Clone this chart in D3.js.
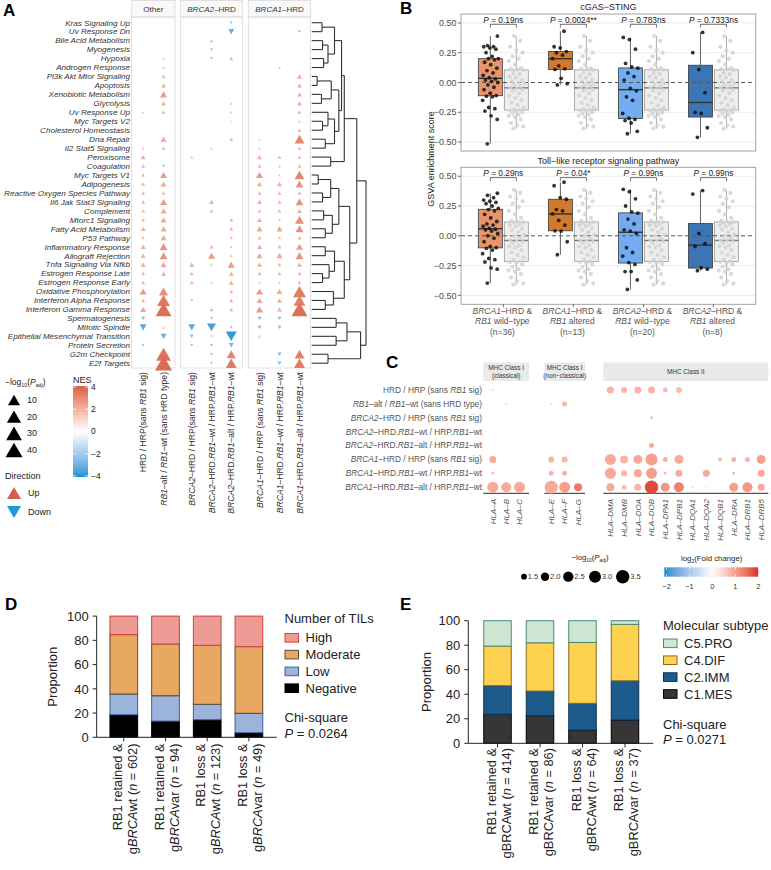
<!DOCTYPE html>
<html>
<head>
<meta charset="utf-8">
<script src="https://cdn.jsdelivr.net/npm/d3@7/dist/d3.min.js"></script>
<style>html,body{margin:0;padding:0;background:#fff;}</style>
</head>
<body>
<script>
// ===================== DATA =====================
// ---- Panel A ----
const pathways = ["Kras Signaling Up","Uv Response Dn","Bile Acid Metabolism","Myogenesis","Hypoxia","Androgen Response","Pi3k Akt Mtor Signaling","Apoptosis","Xenobiotic Metabolism","Glycolysis","Uv Response Up","Myc Targets V2","Cholesterol Homeostasis","Dna Repair","Il2 Stat5 Signaling","Peroxisome","Coagulation","Myc Targets V1","Adipogenesis","Reactive Oxygen Species Pathway","Il6 Jak Stat3 Signaling","Complement","Mtorc1 Signaling","Fatty Acid Metabolism","P53 Pathway","Inflammatory Response","Allograft Rejection","Tnfa Signaling Via Nfkb","Estrogen Response Late","Estrogen Response Early","Oxidative Phosphorylation","Interferon Alpha Response","Interferon Gamma Response","Spermatogenesis","Mitotic Spindle","Epithelial Mesenchymal Transition","Protein Secretion","G2m Checkpoint","E2f Targets"];
const contrastsA = ["HRD / HRP(sans _RB1_ sig)","_RB1_–alt / _RB1_–wt (sans HRD type)","_BRCA2_–HRD / HRP(sans _RB1_ sig)","_BRCA2_–HRD._RB1_–wt / HRP._RB1_–wt","_BRCA2_–HRD._RB1_–alt / HRP._RB1_–wt","_BRCA1_–HRD / HRP (sans _RB1_ sig)","_BRCA1_–HRD._RB1_–wt / HRP._RB1_–wt","_BRCA1_–HRD._RB1_–alt / HRP._RB1_–wt"];
const contrastFacetA = ["Other","Other","BRCA2","BRCA2","BRCA2","BRCA1","BRCA1","BRCA1"];
const facetsA = ["Other","BRCA2","BRCA1"];
const facetTitlesA = ["Other","_BRCA2_–HRD","_BRCA1_–HRD"];
// -log10(Padj), rows = pathways, cols = contrastsA (0 = not shown)
const logPadjA = [
[0,0,0,0,.04,0,0,0],
[0,0,0,0,.62,0,0,.04],
[0,0,0,.12,0,0,0,0],
[0,0,0,.04,0,0,0,0],
[0,.04,0,.04,.12,0,0,0],
[0,.04,0,0,0,0,.04,0],
[0,.12,0,0,0,0,0,.3],
[0,.3,0,0,0,0,0,.3],
[0,1.15,0,0,0,0,0,.3],
[0,.3,0,0,.04,0,0,.3],
[.04,.12,0,0,.04,0,0,.12],
[0,0,0,0,.02,0,0,.04],
[0,0,0,0,0,0,0,.12],
[0,.62,0,0,.12,.04,0,4.79],
[.04,.12,0,.04,0,.04,0,.12],
[.3,0,.04,0,0,.3,.12,.12],
[.12,.04,0,0,0,.12,.04,.12],
[.12,1.15,0,0,0,1.15,.04,4.79],
[.12,.62,0,0,0,.3,.3,1.96],
[.12,.12,0,0,0,.12,.12,.12],
[.12,1.15,0,.3,0,.3,.12,1.96],
[.12,.62,0,.12,0,.12,.12,.3],
[.12,.62,0,0,.12,.3,.04,3.14],
[.3,.62,0,0,.12,.62,.62,1.96],
[.07,.62,0,0,.07,.12,.07,.12],
[.3,1.96,0,.12,.04,.3,.12,1.15],
[.3,1.96,0,1.15,.04,.62,.62,1.96],
[.3,.62,.3,.04,1.15,.3,.12,.3],
[.12,.3,.12,0,.3,.12,.12,.12],
[.12,0,.12,.04,.3,.04,.04,.12],
[1.15,3.14,0,0,.12,1.15,.62,13.7],
[.12,13.7,.04,0,.12,.62,.3,9.93],
[.62,31.4,0,.12,.12,1.15,.3,31.4],
[.12,0,0,.04,0,.12,.12,0],
[1.15,.04,1.15,3.14,.04,.12,.12,0],
[0,.62,.12,.02,7.01,.04,0,0],
[.04,0,.04,.04,.3,0,0,0],
[0,24.3,0,.04,3.14,0,.12,4.79],
[0,40,0,.04,7.01,0,.12,7.01]];
// NES (sign gives direction)
const nesA = [
[0,0,0,0,-2.2,0,0,0],
[0,0,0,0,-3.1,0,0,-2.2],
[0,0,0,1.9,0,0,0,0],
[0,0,0,-2.2,0,0,0,0],
[0,1.6,0,-2.2,1.9,0,0,0],
[0,1.6,0,0,0,0,1.6,0],
[0,1.9,0,0,0,0,0,2.1],
[0,2.1,0,0,0,0,0,2.1],
[0,2.6,0,0,0,0,0,2.1],
[0,2.1,0,0,1.6,0,0,2.1],
[1.6,1.9,0,0,1.6,0,0,1.9],
[0,0,0,0,1.5,0,0,1.6],
[0,0,0,0,0,0,0,1.9],
[0,2.3,0,0,1.9,1.6,0,3.1],
[1.6,1.9,0,1.6,0,1.6,0,1.9],
[2.1,0,1.6,0,0,2.1,1.9,1.9],
[1.9,-2.2,0,0,0,1.9,1.6,1.9],
[1.9,2.6,0,0,0,2.6,1.6,3.1],
[1.9,2.3,0,0,0,2.1,2.1,2.8],
[1.9,1.9,0,0,0,1.9,1.9,1.9],
[1.9,2.6,0,2.1,0,2.1,1.9,2.8],
[1.9,2.3,0,1.9,0,1.9,1.9,2.1],
[1.9,2.3,0,0,1.9,2.1,1.6,2.9],
[2.1,2.3,0,0,1.9,2.3,2.3,2.8],
[1.8,2.3,0,0,1.8,1.9,1.8,1.9],
[2.1,2.8,0,1.9,1.6,2.1,1.9,2.6],
[2.1,2.8,0,2.6,1.6,2.3,2.3,2.8],
[2.1,2.3,2.1,1.6,2.6,2.1,1.9,2.1],
[1.9,2.1,1.9,0,2.1,1.9,1.9,1.9],
[1.9,0,1.9,1.6,2.1,1.6,1.6,1.9],
[2.6,2.9,0,0,1.9,2.6,2.3,3.4],
[1.9,3.4,-2.2,0,1.9,2.3,2.1,3.3],
[2.3,3.7,0,1.9,1.9,2.6,2.1,3.7],
[-2.6,0,0,-2.2,0,-2.6,-2.6,0],
[-3.3,1.6,-3.3,-3.6,-2.2,-2.6,-2.6,0],
[0,-3.1,-2.6,-2.0,-3.9,1.6,0,0],
[-2.2,0,-2.2,-2.2,-2.9,0,0,0],
[0,3.6,0,-2.2,3.2,0,-2.6,3.3],
[0,3.8,0,-2.2,3.4,0,-2.6,3.4]];
const sizeLegendA = [10,20,30,40];
const nesTicksA = [4,2,0,-2,-4];
// hierarchical clustering of pathways (leaf = row index, h = merge height)
const dendroA = {h:1, c:[
  {h:0.83, c:[
    {h:0.6, c:[
      {h:0.55, c:[
        {h:0.42, c:[{h:0.19,c:[0,1]},{h:0.3,c:[{h:0.2,c:[2,3]},{h:0.22,c:[4,5]}]}]},
        {h:0.5, c:[{h:0.36,c:[{h:0.1,c:[6,7]},{h:0.18,c:[8,9]}]},{h:0.42,c:[{h:0.3,c:[10,{h:0.2,c:[11,12]}]},{h:0.25,c:[13,14]}]}]}
      ]},
      {h:0.35, c:[15,16]}
    ]},
    {h:0.7, c:[
      {h:0.5, c:[{h:0.35,c:[{h:0.12,c:[17,18]},{h:0.2,c:[19,20]}]},{h:0.38,c:[{h:0.22,c:[21,22]},{h:0.25,c:[23,24]}]}]},
      {h:0.6, c:[{h:0.42,c:[{h:0.25,c:[25,26]},{h:0.32,c:[27,{h:0.2,c:[28,29]}]}]},{h:0.4,c:[30,{h:0.25,c:[31,32]}]}]}
    ]}
  ]},
  {h:0.9, c:[{h:0.65,c:[{h:0.45,c:[33,34]},{h:0.45,c:[35,36]}]},{h:0.3,c:[37,38]}]}
]};

// ---- Panel B ----
const groupsB = ["BRCA1 RB1wt","BRCA1 RB1alt","BRCA2 RB1wt","BRCA2 RB1alt"];
const groupLabelsB = [["_BRCA1_–HRD &","_RB1_ wild−type","(n=36)"],["_BRCA1_–HRD &","_RB1_ altered","(n=13)"],["_BRCA2_–HRD &","_RB1_ wild−type","(n=20)"],["_BRCA2_–HRD &","_RB1_ altered","(n=8)"]];
const yTicksB = [0.5,0.25,0,-0.25,-0.5];
const cgasBRCA1wt = [-0.515,-0.31,-0.28,-0.24,-0.22,-0.21,-0.15,-0.12,-0.115,-0.11,-0.09,-0.06,-0.04,-0.02,0.00,0.01,0.02,0.03,0.04,0.06,0.08,0.10,0.12,0.15,0.17,0.19,0.20,0.20,0.22,0.25,0.28,0.29,0.30,0.30,0.31,0.39];
const cgasBRCA1alt = [-0.02,-0.01,0.035,0.11,0.115,0.14,0.20,0.23,0.25,0.26,0.29,0.30,0.43];
const cgasBRCA2wt = [-0.43,-0.41,-0.34,-0.32,-0.31,-0.30,-0.26,-0.15,-0.12,-0.07,-0.05,0.02,0.05,0.08,0.12,0.13,0.16,0.28,0.36,0.378];
const cgasBRCA2alt = [-0.46,-0.38,-0.26,-0.25,-0.085,0.11,0.25,0.42];
const cgasHRP = [-0.387,-0.37,-0.36,-0.34,-0.31,-0.29,-0.28,-0.27,-0.26,-0.25,-0.24,-0.235,-0.23,-0.225,-0.21,-0.19,-0.17,-0.15,-0.13,-0.11,-0.09,-0.07,-0.06,-0.05,-0.04,-0.03,-0.02,-0.01,0.00,0.01,0.02,0.04,0.05,0.07,0.08,0.105,0.11,0.115,0.12,0.15,0.18,0.20,0.22,0.25,0.27,0.30,0.35,0.39];
const tlrBRCA1wt = [-0.397,-0.28,-0.27,-0.22,-0.20,-0.19,-0.15,-0.12,-0.105,-0.10,-0.09,-0.05,-0.02,0.00,0.02,0.04,0.05,0.055,0.063,0.08,0.09,0.10,0.12,0.15,0.18,0.21,0.22,0.23,0.25,0.27,0.28,0.29,0.30,0.32,0.34,0.357];
const tlrBRCA1alt = [-0.159,-0.05,0.04,0.042,0.09,0.13,0.184,0.21,0.22,0.307,0.32,0.42,0.45];
const tlrBRCA2wt = [-0.45,-0.37,-0.30,-0.30,-0.24,-0.225,-0.17,-0.14,-0.10,0.02,0.04,0.05,0.10,0.14,0.19,0.20,0.25,0.31,0.37,0.39];
const tlrBRCA2alt = [-0.293,-0.28,-0.268,-0.09,-0.066,0.02,0.35,0.38];
const tlrHRP = [-0.41,-0.40,-0.38,-0.35,-0.32,-0.30,-0.29,-0.28,-0.26,-0.24,-0.23,-0.22,-0.215,-0.20,-0.18,-0.16,-0.14,-0.12,-0.10,-0.09,-0.08,-0.06,-0.05,-0.04,-0.038,-0.02,0.00,0.01,0.03,0.05,0.06,0.08,0.09,0.10,0.11,0.115,0.12,0.125,0.15,0.18,0.21,0.24,0.27,0.29,0.31,0.33,0.36,0.385];
const pCgas = ["0.19ns","0.0024**","0.783ns","0.7333ns"];
const pTlr = ["0.29ns","0.04*","0.99ns","0.99ns"];

// ---- Panel C ----
const contrastsC = ["HRD / HRP (sans _RB1_ sig)","_RB1_–alt / _RB1_–wt (sans HRD type)","_BRCA2_–HRD / HRP (sans _RB1_ sig)","_BRCA2_–HRD._RB1_–wt / HRP._RB1_–wt","_BRCA2_–HRD._RB1_–alt / HRP._RB1_–wt","_BRCA1_–HRD / HRP (sans _RB1_ sig)","_BRCA1_–HRD._RB1_–wt / HRP._RB1_–wt","_BRCA1_–HRD._RB1_–alt / HRP._RB1_–wt"];
const genesC = ["HLA–A","HLA–B","HLA–C","HLA–E","HLA–F","HLA–G","HLA–DMA","HLA–DMB","HLA–DOA","HLA–DOB","HLA–DPA1","HLA–DPB1","HLA–DQA1","HLA–DQA2","HLA–DQB1","HLA–DRA","HLA–DRB1","HLA–DRB5"];
const geneClassC = [0,0,0,1,1,1,2,2,2,2,2,2,2,2,2,2,2,2];
const classNamesC = [["MHC Class I","(classical)"],["MHC Class I","(non−classical)"],["MHC Class II"]];
const logPadjC = [
[1.10,0,0,0,0,0,1.72,1.54,1.72,1.72,1.39,1.54,0,0,0,0,0,0],
[0,1.10,0,1.10,1.39,0,0,0,0,0,0,0,0,0,0,0,0,0],
[0,0,0,0,0,0,0,0,0,1.17,0,0,0,0,0,0,0,0],
[0,0,0,0,0,0,0,0,0,0,0,0,0,0,0,0,0,0],
[0,0,0,0,0,0,0,0,0,1.39,0,0,0,0,0,0,0,0],
[1.72,0,0,1.54,1.54,0,2.70,1.92,2.15,3.01,1.39,2.15,0,0,1.27,1.39,1.39,2.15],
[1.17,0,0,1.39,1.39,0,2.70,1.54,1.92,2.70,1.17,1.72,0,1.72,0,1.17,0,1.72],
[2.70,2.41,2.70,3.35,2.70,1.92,1.92,1.39,1.72,3.72,2.15,2.41,1.10,1.08,0,2.15,2.41,1.72]];
const log2FcC = [
[0.5,0,0,0,0,0,0.8,0.8,0.8,0.8,0.7,0.7,0,0,0,0,0,0],
[0,0.5,0,0.5,0.8,0,0,0,0,0,0,0,0,0,0,0,0,0],
[0,0,0,0,0,0,0,0,0,0.7,0,0,0,0,0,0,0,0],
[0,0,0,0,0,0,0,0,0,0,0,0,0,0,0,0,0,0],
[0,0,0,0,0,0,0,0,0,0.9,0,0,0,0,0,0,0,0],
[0.9,0,0,0.8,0.8,0,0.9,0.8,0.9,1.0,0.8,0.9,0,0,0.7,0.8,0.8,1.0],
[0.7,0,0,0.8,0.8,0,0.9,0.8,0.9,1.0,0.7,0.9,0,0.9,0,0.7,0,0.9],
[0.9,0.9,0.9,0.9,1.0,1.4,0.9,0.7,0.8,1.8,1.1,1.3,0.5,0.5,0,1.0,1.1,0.9]];
const sizeLegendC = [1.5,2.0,2.5,3.0,3.5];
const fcTicksC = [-2,-1,0,1,2];

// ---- Panel D ----
const tilLine1 = ["RB1 retained &","RB1 retained &","RB1 loss &","RB1 loss &"];
const tilLine2 = ["g_BRCA_wt (_n_ = 602)","g_BRCA_var (_n_ = 94)","g_BRCA_wt (_n_ = 123)","g_BRCA_var (_n_ = 49)"];
const tilLevels = ["Negative","Low","Moderate","High"];
const tilNegative = [18.6,13.4,14.5,3.8];
const tilLow = [17.1,20.9,12.7,16.0];
const tilModerate = [49.0,42.7,48.7,55.0];
const tilHigh = [15.3,23.0,24.1,25.2];
const yTicksDE = [0,20,40,60,80,100];

// ---- Panel E ----
const subLine1 = ["RB1 retained &","RB1 retained &","RB1 loss &","RB1 loss &"];
const subLine2 = ["gBRCAwt (_n_ = 414)","gBRCAvar (_n_ = 86)","gBRCAwt (_n_ = 64)","gBRCAvar (_n_ = 37)"];
const subLevels = ["C1.MES","C2.IMM","C4.DIF","C5.PRO"];
const subMES = [23.6,22.5,10.8,19.0];
const subIMM = [23.4,20.1,21.8,32.0];
const subDIF = [32.3,39.4,49.7,46.0];
const subPRO = [20.7,18.0,17.7,3.0];

// ===================== DRAWING =====================
const FONT = '"Liberation Sans", Arial, Helvetica, sans-serif';
const svg = d3.select("body").append("svg").attr("width",771).attr("height",870).attr("font-family",FONT);
svg.append("rect").attr("width",771).attr("height",870).attr("fill","#fff");
const defs = svg.append("defs");

function rich(t, str){
  str.split("_").forEach((p,i)=>{ if(p!==""){ const s=t.append("tspan").text(p); if(i%2===1) s.attr("font-style","italic"); } });
  return t;
}
function logPadjLabel(t, fs){
  t.append("tspan").text("−log");
  t.append("tspan").attr("font-size",fs*0.62).attr("dy",fs*0.28).text("10");
  t.append("tspan").attr("dy",-fs*0.28).text("(");
  t.append("tspan").attr("font-style","italic").text("P");
  t.append("tspan").attr("font-size",fs*0.62).attr("dy",fs*0.28).text("adj");
  t.append("tspan").attr("dy",-fs*0.28).text(")");
  return t;
}
function panelLabel(txt,x,y){ svg.append("text").attr("x",x).attr("y",y).attr("font-size",17).attr("font-weight","bold").attr("fill","#000").text(txt); }
function gradient(id, scale, d0, d1, vertical){
  const g = defs.append("linearGradient").attr("id",id);
  if(vertical) g.attr("x1",0).attr("y1",1).attr("x2",0).attr("y2",0);
  const n=24;
  for(let i=0;i<=n;i++){ const v=d0+(d1-d0)*i/n; g.append("stop").attr("offset",i/n).attr("stop-color",scale(v)); }
}

// ---------- Panel A ----------
(function(){
  const g = svg.append("g");
  panelLabel("A",3,16);
  const facetRanges = {Other:[131.7,175], BRCA2:[180.7,242.3], BRCA1:[248.3,310.7]};
  const yA = d3.scalePoint().domain(pathways).range([22.7,363.2]);
  const xA = {};
  facetsA.forEach(f=>{ xA[f] = d3.scalePoint().domain(contrastsA.filter((c,i)=>contrastFacetA[i]===f)).range(facetRanges[f]).padding(0.56); });
  const sizeA = d3.scalePow().exponent(0.25).domain([0,40]).range([0,17]);
  const nesColor = d3.scaleLinear().domain([-4.1,0,4.3]).range(["#1296d6","#ffffff","#d2573f"]).interpolate(d3.interpolateLab).clamp(true);
  const tri = w => d3.symbol(d3.symbolTriangle, Math.sqrt(3)/4*w*w)();

  facetsA.forEach((f,k)=>{
    const [x0,x1] = facetRanges[f];
    g.append("rect").attr("x",x0).attr("y",0.5).attr("width",x1-x0).attr("height",16.5).attr("fill","#f9f9f9").attr("stroke","#d9d9d9").attr("stroke-width",0.8);
    g.append("rect").attr("x",x0).attr("y",17).attr("width",x1-x0).attr("height",351).attr("fill","none").attr("stroke","#d9d9d9").attr("stroke-width",0.8);
    rich(g.append("text").attr("x",(x0+x1)/2).attr("y",11.8).attr("text-anchor","middle").attr("font-size",8).attr("fill","#333"), facetTitlesA[k]);
  });
  pathways.forEach(p=>{
    g.append("text").attr("x",130).attr("y",yA(p)).attr("dy","0.35em").attr("text-anchor","end").attr("font-size",8.1).attr("font-style","italic").attr("fill","#333").text(p);
  });
  contrastsA.forEach((c,j)=>{
    const x = xA[contrastFacetA[j]](c);
    rich(g.append("text").attr("transform",`translate(${x+3},372) rotate(-90)`).attr("text-anchor","end").attr("font-size",8.6).attr("fill","#333"), c);
  });
  pathways.forEach((p,r)=>{
    contrastsA.forEach((c,j)=>{
      const v = logPadjA[r][j]; if(!v) return;
      const nes = nesA[r][j], w = sizeA(v), h = w*Math.sqrt(3)/2, down = nes<0;
      const x = xA[contrastFacetA[j]](c), y = yA(p);
      g.append("path").attr("d",tri(w)).attr("transform",`translate(${x},${y+(down?-h/6:h/6)}) rotate(${down?180:0})`).attr("fill",nesColor(nes));
    });
  });
  // dendrogram
  const xD = d3.scaleLinear().domain([0,1]).range([311.7,366]);
  function dendro(n){
    if(typeof n==="number") return {x:xD(0), y:yA(pathways[n])};
    const kids = n.c.map(dendro);
    const x = xD(n.h), y0 = d3.min(kids,k=>k.y), y1 = d3.max(kids,k=>k.y);
    g.append("line").attr("x1",x).attr("x2",x).attr("y1",y0).attr("y2",y1).attr("stroke","#333").attr("stroke-width",1.1);
    kids.forEach(k=> g.append("line").attr("x1",k.x).attr("x2",x).attr("y1",k.y).attr("y2",k.y).attr("stroke","#333").attr("stroke-width",1.1));
    return {x, y:(y0+y1)/2};
  }
  dendro(dendroA);
  // size legend
  logPadjLabel(g.append("text").attr("x",5).attr("y",385).attr("font-size",8.5).attr("fill","#222"), 8.5);
  const legY = d3.scalePoint().domain(sizeLegendA).range([400,450]);
  sizeLegendA.forEach(v=>{
    const w=sizeA(v), h=w*Math.sqrt(3)/2;
    g.append("path").attr("d",tri(w)).attr("transform",`translate(14,${legY(v)+h/6})`).attr("fill","#000");
    g.append("text").attr("x",27).attr("y",legY(v)).attr("dy","0.35em").attr("font-size",9).attr("fill","#222").text(v);
  });
  g.append("text").attr("x",5).attr("y",479).attr("font-size",9).attr("fill","#222").text("Direction");
  [["Up",493,false],["Down",512,true]].forEach(([lab,y,down])=>{
    const w=14, h=w*Math.sqrt(3)/2;
    g.append("path").attr("d",tri(w)).attr("transform",`translate(14,${y+(down?-h/6:h/6)}) rotate(${down?180:0})`).attr("fill",down?"#1b9ad6":"#d6604d");
    g.append("text").attr("x",28).attr("y",y).attr("dy","0.35em").attr("font-size",9).attr("fill","#222").text(lab);
  });
  // NES colourbar
  g.append("text").attr("x",73).attr("y",383).attr("font-size",9).attr("fill","#222").text("NES");
  const barY = d3.scaleLinear().domain([-4.1,4.1]).range([477,386]);
  gradient("nesGrad", nesColor, -4.1, 4.1, true);
  g.append("rect").attr("x",73).attr("y",barY(4.1)).attr("width",15).attr("height",barY(-4.1)-barY(4.1)).attr("fill","url(#nesGrad)");
  nesTicksA.forEach(t=>{
    g.append("line").attr("x1",73).attr("x2",76).attr("y1",barY(t)).attr("y2",barY(t)).attr("stroke","#fff").attr("stroke-width",0.8);
    g.append("line").attr("x1",85).attr("x2",88).attr("y1",barY(t)).attr("y2",barY(t)).attr("stroke","#fff").attr("stroke-width",0.8);
    g.append("text").attr("x",91).attr("y",barY(t)).attr("dy","0.35em").attr("font-size",8.5).attr("fill","#222").text(t<0?"−"+Math.abs(t):t);
  });
})();

// ---------- Panel B ----------
(function(){
  const g = svg.append("g");
  panelLabel("B",400,14);
  const L=461, R=755.7;
  const xB = d3.scaleBand().domain(groupsB).range([468.3,748.5]);
  const groupColors = ["#e8956c","#d07a2e","#71adf0","#3c75b6"];
  const panels = [
    {title:"cGAS−STING", top:14, bottom:151, titleY:10.3, groups:[cgasBRCA1wt,cgasBRCA1alt,cgasBRCA2wt,cgasBRCA2alt], ref:cgasHRP, p:pCgas},
    {title:"Toll−like receptor signaling pathway", top:167.3, bottom:304.3, titleY:163.8, groups:[tlrBRCA1wt,tlrBRCA1alt,tlrBRCA2wt,tlrBRCA2alt], ref:tlrHRP, p:pTlr}
  ];
  function stats(arr){
    const s=[...arr].sort(d3.ascending);
    const q1=d3.quantileSorted(s,0.25), med=d3.quantileSorted(s,0.5), q3=d3.quantileSorted(s,0.75), iqr=q3-q1;
    return {q1,med,q3, lo:d3.min(s.filter(v=>v>=q1-1.5*iqr)), hi:d3.max(s.filter(v=>v<=q3+1.5*iqr))};
  }
  function box(y, cx, arr, fill, stroke, medStroke){
    const s=stats(arr), bw=24;
    g.append("line").attr("x1",cx).attr("x2",cx).attr("y1",y(s.hi)).attr("y2",y(s.q3)).attr("stroke",stroke).attr("stroke-width",0.8);
    g.append("line").attr("x1",cx).attr("x2",cx).attr("y1",y(s.q1)).attr("y2",y(s.lo)).attr("stroke",stroke).attr("stroke-width",0.8);
    g.append("rect").attr("x",cx-bw/2).attr("y",y(s.q3)).attr("width",bw).attr("height",y(s.q1)-y(s.q3)).attr("fill",fill).attr("stroke",stroke).attr("stroke-width",0.8);
    g.append("line").attr("x1",cx-bw/2).attr("x2",cx+bw/2).attr("y1",y(s.med)).attr("y2",y(s.med)).attr("stroke",medStroke).attr("stroke-width",1.4);
  }
  function pts(y, cx, arr, fill, r, op){
    arr.forEach((v,i)=>{
      const off = (((i*0.6180339887+0.31)%1)-0.5)*16;
      g.append("circle").attr("cx",cx+off).attr("cy",y(v)).attr("r",r).attr("fill",fill).attr("opacity",op);
    });
  }
  panels.forEach((P,pi)=>{
    const y = d3.scaleLinear().domain([-0.575,0.575]).range([P.bottom,P.top]);
    g.append("rect").attr("x",L).attr("y",P.top).attr("width",R-L).attr("height",P.bottom-P.top).attr("fill","#fff");
    yTicksB.forEach(t=>{ if(t!==0) g.append("line").attr("x1",L).attr("x2",R).attr("y1",y(t)).attr("y2",y(t)).attr("stroke","#ececec").attr("stroke-width",1); });
    groupsB.forEach((gr,i)=>{
      const c = xB(gr)+xB.bandwidth()/2;
      box(y, c-13, P.groups[i], groupColors[i], "#3a3a3a", "#333");
      box(y, c+13, P.ref, "#eeeeee", "#999", "#777");
    });
    g.append("line").attr("x1",L).attr("x2",R).attr("y1",y(0)).attr("y2",y(0)).attr("stroke","#555").attr("stroke-width",1).attr("stroke-dasharray","4,3");
    groupsB.forEach((gr,i)=>{
      const c = xB(gr)+xB.bandwidth()/2;
      pts(y, c+13, P.ref, "#d2d2d2", 2.1, 0.85);
      pts(y, c-13, P.groups[i], "#111", 1.9, 0.85);
      const by = P.top+10.3;
      g.append("path").attr("d",`M${c-13},${by+3.3}V${by}H${c+13}V${by+3.3}`).attr("fill","none").attr("stroke","#333").attr("stroke-width",0.7);
      rich(g.append("text").attr("x",c).attr("y",by-1.8).attr("text-anchor","middle").attr("font-size",8.3).attr("fill","#222"), "_P_ = "+P.p[i]);
    });
    g.append("rect").attr("x",L).attr("y",P.top).attr("width",R-L).attr("height",P.bottom-P.top).attr("fill","none").attr("stroke","#9a9a9a").attr("stroke-width",0.9);
    yTicksB.forEach(t=>{
      g.append("line").attr("x1",L-3).attr("x2",L).attr("y1",y(t)).attr("y2",y(t)).attr("stroke","#444").attr("stroke-width",0.8);
      g.append("text").attr("x",L-4.5).attr("y",y(t)).attr("dy","0.35em").attr("text-anchor","end").attr("font-size",9).attr("fill","#4d4d4d").text(t<0?"−"+d3.format(".2f")(-t):d3.format(".2f")(t));
    });
    g.append("text").attr("x",(L+R)/2).attr("y",P.titleY).attr("text-anchor","middle").attr("font-size",9).attr("fill","#222").text(P.title);
    if(pi===1){
      groupsB.forEach((gr,i)=>{
        const c = xB(gr)+xB.bandwidth()/2;
        g.append("line").attr("x1",c).attr("x2",c).attr("y1",P.bottom).attr("y2",P.bottom+3).attr("stroke","#444").attr("stroke-width",0.8);
        groupLabelsB[i].forEach((ln,k)=>{
          rich(g.append("text").attr("x",c-1).attr("y",P.bottom+9.5+k*10.6).attr("text-anchor","middle").attr("font-size",8.5).attr("fill","#555"), ln);
        });
      });
    }
  });
  g.append("text").attr("transform","translate(434,159) rotate(-90)").attr("text-anchor","middle").attr("font-size",9).attr("fill","#222").text("GSVA enrichment score");
})();

// ---------- Panel C ----------
(function(){
  const g = svg.append("g");
  panelLabel("C",386,368);
  const yC = d3.scalePoint().domain(contrastsC).range([390,487.2]);
  const facetRanges = [[483.3,529],[544.3,585],[603.3,768.3]];
  const pads = [0.71,0.52,0.52];
  const xC = facetRanges.map((r,k)=> d3.scalePoint().domain(genesC.filter((gn,i)=>geneClassC[i]===k)).range(r).padding(pads[k]));
  const area = d3.scaleLinear().domain([1.05,3.5]).range([0,180]).clamp(true);
  const rad = v => Math.sqrt(area(v))/2;
  const fcColor = d3.scaleLinear().domain([-2.1,0,2.0]).range(["#1a8ed0","#ffffff","#d6302a"]).interpolate(d3.interpolateLab).clamp(true);
  facetRanges.forEach((r,k)=>{
    g.append("rect").attr("x",r[0]).attr("y",362.5).attr("width",r[1]-r[0]).attr("height",18.5).attr("fill","#e9e9e9");
    const lines = classNamesC[k];
    lines.forEach((ln,li)=>{
      g.append("text").attr("x",(r[0]+r[1])/2).attr("y", lines.length===1?374.2:369.6+li*8).attr("text-anchor","middle").attr("font-size",6.4).attr("fill","#333").text(ln);
    });
    g.append("line").attr("x1",r[0]).attr("x2",r[1]).attr("y1",493.3).attr("y2",493.3).attr("stroke","#555").attr("stroke-width",1.3);
  });
  contrastsC.forEach(c=>{
    rich(g.append("text").attr("x",482).attr("y",yC(c)).attr("dy","0.35em").attr("text-anchor","end").attr("font-size",8.3).attr("fill","#555"), c);
  });
  genesC.forEach((gn,j)=>{
    const x = xC[geneClassC[j]](gn);
    g.append("text").attr("transform",`translate(${x+2.8},499) rotate(-90)`).attr("text-anchor","end").attr("font-size",8).attr("font-style","italic").attr("fill","#555").text(gn);
  });
  contrastsC.forEach((c,r)=>{
    genesC.forEach((gn,j)=>{
      const v = logPadjC[r][j]; if(!v) return;
      g.append("circle").attr("cx",xC[geneClassC[j]](gn)).attr("cy",yC(c)).attr("r",Math.max(0.8,rad(v))).attr("fill",fcColor(log2FcC[r][j]));
    });
  });
  // size legend
  logPadjLabel(g.append("text").attr("x",590).attr("y",560).attr("text-anchor","middle").attr("font-size",7.8).attr("fill","#222"), 7.8);
  const lx = [524,545,568.3,595,622.7];
  sizeLegendC.forEach((v,i)=>{
    g.append("circle").attr("cx",lx[i]).attr("cy",576.7).attr("r",rad(v)).attr("fill","#000");
    g.append("text").attr("x",lx[i]+rad(v)+0.8).attr("y",576.7).attr("dy","0.35em").attr("font-size",7.5).attr("fill","#333").text(d3.format(".1f")(v));
  });
  // fc colourbar
  const t = g.append("text").attr("x",711.7).attr("y",561).attr("text-anchor","middle").attr("font-size",7.8).attr("fill","#222");
  t.append("tspan").text("log"); t.append("tspan").attr("font-size",5).attr("dy",2.2).text("2"); t.append("tspan").attr("dy",-2.2).text("(Fold change)");
  const bx = d3.scaleLinear().domain([-2.1,2.0]).range([664.3,758.3]);
  gradient("fcGrad", fcColor, -2.1, 2.0, false);
  g.append("rect").attr("x",bx(-2.1)).attr("y",567.3).attr("width",bx(2.0)-bx(-2.1)).attr("height",9.4).attr("fill","url(#fcGrad)");
  fcTicksC.forEach(v=>{
    g.append("line").attr("x1",bx(v)).attr("x2",bx(v)).attr("y1",567.3).attr("y2",569.5).attr("stroke","#fff").attr("stroke-width",0.7);
    g.append("line").attr("x1",bx(v)).attr("x2",bx(v)).attr("y1",574.5).attr("y2",576.7).attr("stroke","#fff").attr("stroke-width",0.7);
    g.append("text").attr("x",bx(v)).attr("y",589).attr("text-anchor","middle").attr("font-size",7.5).attr("fill","#333").text(v<0?"−"+Math.abs(v):v);
  });
})();

// ---------- Panels D & E ----------
function stackedPanel(cfg){
  const g = svg.append("g");
  const y = d3.scaleLinear().domain([0,100]).range([cfg.y0,cfg.y100]);
  const x = d3.scaleBand().domain(d3.range(4)).range(cfg.band).paddingInner(cfg.pi).paddingOuter(cfg.pi/2);
  const rows = d3.range(4).map(i=>{ const o={}; cfg.series.forEach(s=>o[s.name]=s.values[i]); return o; });
  const stack = d3.stack().keys(cfg.series.map(s=>s.name))(rows);
  stack.forEach((layer,k)=>{
    const s = cfg.series[k];
    layer.forEach((d,i)=>{
      g.append("rect").attr("x",x(i)).attr("y",y(d[1])).attr("width",x.bandwidth()).attr("height",y(d[0])-y(d[1])).attr("fill",s.fill).attr("stroke",s.stroke).attr("stroke-width",1);
    });
  });
  g.append("line").attr("x1",cfg.axisX).attr("x2",cfg.axisX).attr("y1",y(100)).attr("y2",y(0)).attr("stroke","#222").attr("stroke-width",1);
  g.append("line").attr("x1",cfg.axisX).attr("x2",cfg.axisEnd).attr("y1",y(0)).attr("y2",y(0)).attr("stroke","#222").attr("stroke-width",1);
  yTicksDE.forEach(t=>{
    g.append("line").attr("x1",cfg.axisX-4).attr("x2",cfg.axisX).attr("y1",y(t)).attr("y2",y(t)).attr("stroke","#222").attr("stroke-width",1);
    g.append("text").attr("x",cfg.axisX-8).attr("y",y(t)).attr("dy","0.36em").attr("text-anchor","end").attr("font-size",13).attr("fill","#222").text(t);
  });
  g.append("text").attr("transform",`translate(${cfg.titleX},${(y(0)+y(100))/2}) rotate(-90)`).attr("text-anchor","middle").attr("font-size",13).attr("fill","#222").text("Proportion");
  d3.range(4).forEach(i=>{
    const c = x(i)+x.bandwidth()/2;
    g.append("line").attr("x1",c).attr("x2",c).attr("y1",y(0)).attr("y2",y(0)+4).attr("stroke","#222").attr("stroke-width",1);
    g.append("text").attr("transform",`translate(${c-2},${cfg.labelTop}) rotate(-90)`).attr("text-anchor","end").attr("font-size",12.8).attr("fill","#222").text(cfg.line1[i]);
    rich(g.append("text").attr("transform",`translate(${c+13},${cfg.labelTop}) rotate(-90)`).attr("text-anchor","end").attr("font-size",12.8).attr("fill","#222"), cfg.line2[i]);
  });
  g.append("text").attr("x",cfg.legX).attr("y",cfg.legTitleY).attr("font-size",13).attr("fill","#222").text(cfg.legTitle);
  const legOrder = [...cfg.series].reverse();
  legOrder.forEach((s,k)=>{
    const yy = cfg.legY0 + k*cfg.legStep;
    g.append("rect").attr("x",cfg.legX+0.5).attr("y",yy-4.3).attr("width",13.5).attr("height",8.6).attr("fill",s.fill).attr("stroke",s.stroke).attr("stroke-width",1);
    g.append("text").attr("x",cfg.legX+21).attr("y",yy).attr("dy","0.36em").attr("font-size",13).attr("fill","#222").text(s.name);
  });
  g.append("text").attr("x",cfg.legX).attr("y",cfg.chiY).attr("font-size",13).attr("fill","#222").text("Chi-square");
  rich(g.append("text").attr("x",cfg.legX).attr("y",cfg.chiY+15.5).attr("font-size",13).attr("fill","#222"), "_P_ = "+cfg.p);
}
panelLabel("D",5,610);
stackedPanel({y0:737.3, y100:616.1, band:[102.95,269.75], pi:0.336, axisX:96.7, axisEnd:276.7, titleX:57,
  series:[{name:"Negative",values:tilNegative,fill:"#000000",stroke:"#000000"},{name:"Low",values:tilLow,fill:"#9db4da",stroke:"#3b5fa0"},{name:"Moderate",values:tilModerate,fill:"#e9a862",stroke:"#5c4a33"},{name:"High",values:tilHigh,fill:"#ec9b95",stroke:"#d8403a"}],
  line1:tilLine1, line2:tilLine2, labelTop:743.5, legTitle:"Number of TILs", legX:284.5, legTitleY:622.5, legY0:637.8, legStep:16.8, chiY:722, p:"0.0264"});
panelLabel("E",400,610);
stackedPanel({y0:743.3, y100:620.7, band:[476.25,646.25], pi:0.353, axisX:468.3, axisEnd:653.3, titleX:431,
  series:[{name:"C1.MES",values:subMES,fill:"#363636",stroke:"#000000"},{name:"C2.IMM",values:subIMM,fill:"#1e5b8d",stroke:"#0d3050"},{name:"C4.DIF",values:subDIF,fill:"#fdd24e",stroke:"#8a6a2a"},{name:"C5.PRO",values:subPRO,fill:"#cde7d3",stroke:"#4a8a72"}],
  line1:subLine1, line2:subLine2, labelTop:748, legTitle:"Molecular subtype", legX:663, legTitleY:629.5, legY0:643.3, legStep:16.9, chiY:728.5, p:"0.0271"});
</script>
</body>
</html>
